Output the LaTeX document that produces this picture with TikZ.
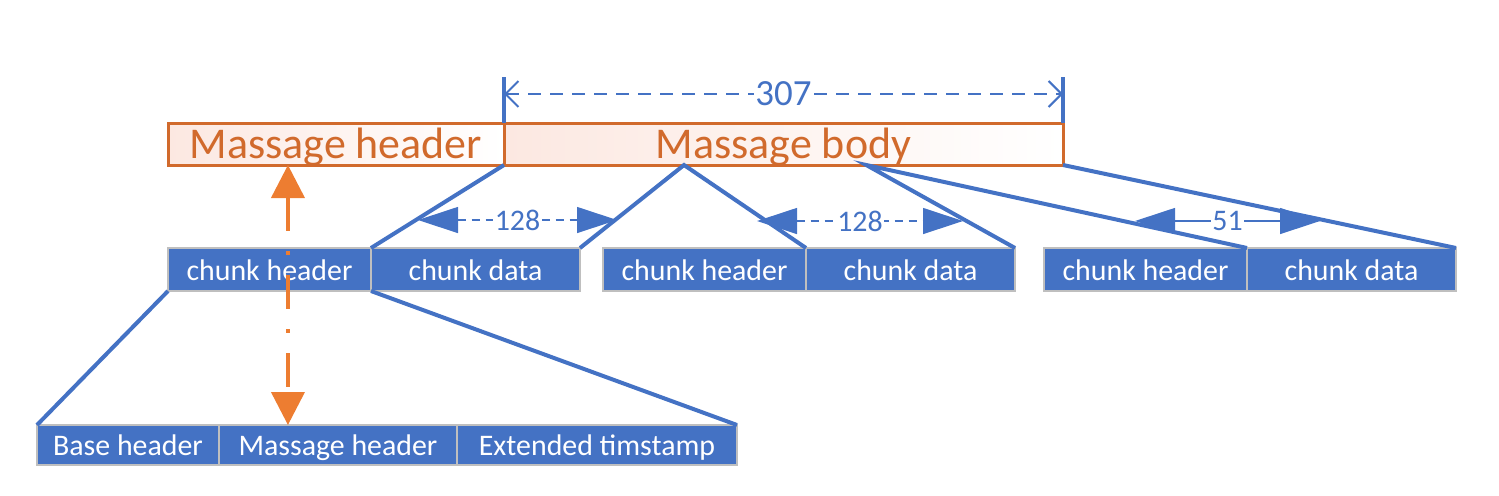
\documentclass[tikz,border=0pt]{standalone}
\usepackage{fontspec}
\setmainfont{Carlito}
\usepackage{xcolor}
\usetikzlibrary{arrows.meta, positioning, calc}
\definecolor{msgorange}{RGB}{209,106,44}
\definecolor{msgpink}{RGB}{252,232,225}
\definecolor{chunkblue}{RGB}{68,114,196}
\definecolor{linkorange}{RGB}{237,125,49}
\definecolor{cellgray}{RGB}{191,191,191}
\tikzset{
    baseblock/.style={rectangle, outer sep=0pt, inner sep=0pt, text centered},
    msgblock/.style={baseblock, draw=msgorange, line width=0.6mm, left color=msgpink, right color=white, text=msgorange, font=\fontsize{25}{30}\selectfont, text height=20pt, text depth=3pt, minimum height=8.4mm},
    chunkblock/.style={baseblock, draw=cellgray, line width=0.25mm, fill=chunkblue, text=white, font=\fontsize{17}{20}\selectfont, text height=14pt, text depth=2pt, minimum height=8.6mm},
    fieldblock/.style={chunkblock, minimum height=8mm},
    fanline/.style={line width=0.8mm, color=chunkblue},
    tickline/.style={line width=0.8mm, color=chunkblue},
    dimline/.style={line width=0.4mm, color=chunkblue, dash pattern=on 2.6mm off 1.8mm, {Straight Barb[length=2.6mm, width=5.2mm]}-{Straight Barb[length=2.6mm, width=5.2mm]}},
    dimlabel/.style={fill=white, inner sep=1pt, text=chunkblue, font=\fontsize{21}{25}\selectfont},
    sizeline/.style={line width=0.25mm, color=chunkblue, {Triangle[length=8mm, width=5.2mm]}-{Triangle[length=8mm, width=5.2mm]}},
    sizelabel/.style={fill=white, inner sep=1pt, text=chunkblue, font=\fontsize{17}{20}\selectfont},
    linkarrow/.style={line width=0.8mm, color=linkorange, dash pattern=on 6.8mm off 4mm on 0.8mm off 4mm, {Triangle[length=6.6mm, width=6.6mm]}-{Triangle[length=6.6mm, width=6.6mm]}}
}

\begin{document}
\begin{tikzpicture}[x=0.2mm, y=-0.2mm]
    \useasboundingbox (0,0) rectangle (1499,495);

    % Nodes
    \node (mhead) [msgblock, minimum width=67.2mm, anchor=north west] at (168,123) {Massage header};
    \node (mbody) [msgblock, minimum width=111.8mm, right=0pt of mhead] {Massage body};

    \node (ch1) [chunkblock, minimum width=40.6mm, anchor=north west] at (168,248) {chunk header};
    \node (cd1) [chunkblock, minimum width=41.8mm, right=0pt of ch1] {chunk data};
    \node (ch2) [chunkblock, minimum width=40.6mm, right=4.6mm of cd1] {chunk header};
    \node (cd2) [chunkblock, minimum width=41.8mm, right=0pt of ch2] {chunk data};
    \node (ch3) [chunkblock, minimum width=40.6mm, right=5.8mm of cd2] {chunk header};
    \node (cd3) [chunkblock, minimum width=41.8mm, right=0pt of ch3] {chunk data};

    \node (bfield) [fieldblock, minimum width=36.4mm, anchor=north west] at (37,425) {Base header};
    \node (mfield) [fieldblock, minimum width=47.6mm, right=0pt of bfield] {Massage header};
    \node (efield) [fieldblock, minimum width=56mm, right=0pt of mfield] {Extended timstamp};

    \coordinate (splitA) at ($(mbody.south west)!0.322!(mbody.south east)$);
    \coordinate (splitB) at ($(mbody.south west)!0.648!(mbody.south east)$);
    \coordinate (linkTop) at ($(mhead.south west)!0.357!(mhead.south east)$);

    % Fan lines
    \draw [fanline] (mbody.south west) -- (ch1.north east);
    \draw [fanline] (cd1.north east) -- (splitA) -- (ch2.north east);
    \draw [fanline] (cd2.north east) -- (splitB) -- (ch3.north east);
    \draw [fanline] (mbody.south east) -- (cd3.north east);
    \draw [fanline] (ch1.south west) -- (bfield.north west);
    \draw [fanline] (ch1.south east) -- (efield.north east);

    % Body length
    \draw [tickline] (mbody.north west) -- ++(0,-46) coordinate (tickL);
    \draw [tickline] (mbody.north east) -- ++(0,-46) coordinate (tickR);
    \draw [dimline] ($(tickL)+(0,17)$) -- node[dimlabel] {307} ($(tickR)+(0,17)$);

    % Chunk sizes
    \coordinate (sizeAl) at (418,220);
    \coordinate (sizeAr) at (617,220);
    \coordinate (sizeBl) at (757,221);
    \coordinate (sizeBr) at (963,221);
    \coordinate (sizeCl) at (1135,221);
    \coordinate (sizeCr) at (1320,221);
    \draw [sizeline, dash pattern=on 1.6mm off 1.2mm] (sizeAl) -- node[sizelabel] {128} (sizeAr);
    \draw [sizeline, dash pattern=on 1.6mm off 1.2mm] (sizeBl) -- node[sizelabel] {128} (sizeBr);
    \draw [sizeline] (sizeCl) -- node[sizelabel] {51} (sizeCr);

    % Header link
    \draw [linkarrow] (linkTop) -- (linkTop |- mfield.north);
\end{tikzpicture}
\end{document}
